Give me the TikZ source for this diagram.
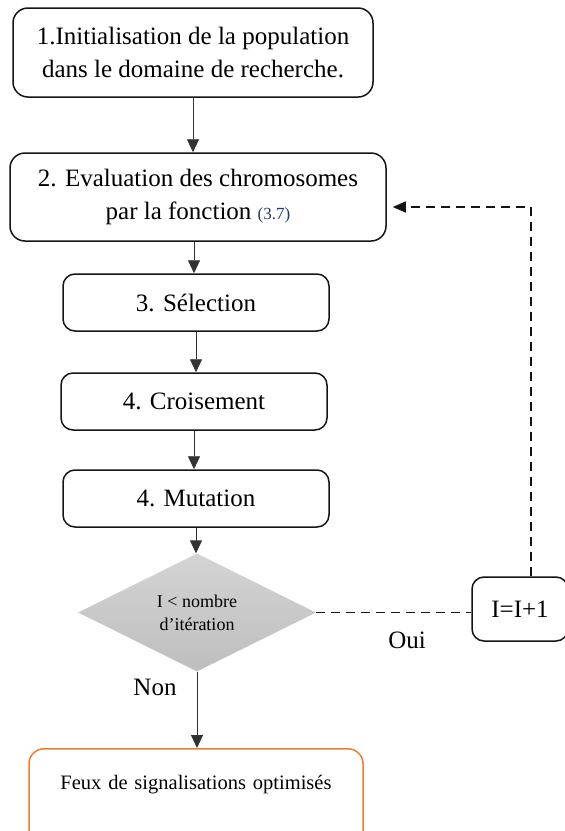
\documentclass[tikz,border=0pt]{standalone}
\usepackage{fontspec}
\setmainfont{Liberation Serif}
\usepackage{xcolor}
\usepackage{tikz}
\usetikzlibrary{shapes.geometric, arrows.meta}
\definecolor{flowblack}{RGB}{20,20,20}
\definecolor{edgegray}{RGB}{50,50,50}
\definecolor{testtop}{RGB}{212,212,212}
\definecolor{testbot}{RGB}{190,190,190}
\definecolor{endorange}{RGB}{237,125,49}
\definecolor{refblue}{RGB}{32,56,110}
\tikzset{
  stepbox/.style={draw=flowblack, line width=1.5pt, rounded corners=12pt, align=center,
    font=\fontsize{25}{33}\selectfont, inner sep=0pt},
  testnode/.style={diamond, aspect=2, top color=testtop, bottom color=testbot,
    minimum width=238pt, minimum height=118pt, inner sep=0pt, align=center,
    font=\fontsize{18}{23}\selectfont},
  endbox/.style={draw=endorange, line width=1.5pt, rounded corners=15pt, align=center,
    font=\fontsize{20.5}{25}\selectfont, inner xsep=0pt, inner ysep=20pt},
  flowedge/.style={draw=edgegray, line width=0.9pt, -{Triangle[length=13pt, width=12pt]}},
  loopedge/.style={draw=flowblack, line width=1.4pt, dash pattern=on 9pt off 6pt},
  flowlabel/.style={font=\fontsize{25}{30}\selectfont}
}

\begin{document}
\begin{tikzpicture}[x=1pt, y=-1pt]
  \clip (0,0) rectangle (565,831);
  % etapes
  \node[stepbox, rounded corners=15pt, minimum width=360pt, minimum height=89pt] (init) at (193,52.5)
    {1.Initialisation de la population\\dans le domaine de recherche.};
  \node[stepbox, rounded corners=15pt, minimum width=376pt, minimum height=88pt] (eval) at (198,197)
    {2. Evaluation des chromosomes\\par la fonction {\color{refblue}\fontsize{17}{17}\selectfont(3.7)}};
  \node[stepbox, minimum width=266pt, minimum height=57pt] (sel) at (196,302.5) {3. Sélection};
  \node[stepbox, minimum width=266pt, minimum height=57pt] (cross) at (194,401.5) {4. Croisement};
  \node[stepbox, minimum width=266pt, minimum height=57pt] (mut) at (196,498.5) {4. Mutation};
  \node[testnode] (test) at (197,612.5) {I < nombre\\d’itération};
  \node[stepbox, minimum width=96pt, minimum height=64pt] (incr) at (520,609) {I=I+1};
  \node[endbox, text width=334pt, text height=21pt, text depth=59pt, anchor=north] (result) at (196,748)
    {Feux de signalisations optimisés};
  \node[flowlabel] (yes) at (407,640) {Oui};
  \node[flowlabel] (no) at (155,687) {Non};
  % fleches
  \draw[flowedge] (init.south) -- (init.south |- eval.north);
  \draw[flowedge] ([xshift=-4pt]eval.south) -- ([xshift=-4pt]eval.south |- sel.north);
  \draw[flowedge] (sel.south) -- (sel.south |- cross.north);
  \draw[flowedge] (cross.south) -- (cross.south |- mut.north);
  \draw[flowedge] (mut.south) -- (mut.south |- test.north);
  \draw[flowedge] (test.south) -- (test.south |- result.north);
  % boucle
  \coordinate (back) at (531,207);
  \draw[loopedge] (test.east) -- (test.east -| incr.west);
  \draw[loopedge, -{Triangle[length=13pt, width=11pt]}, shorten >=6pt]
    (incr.north -| back) -- (back) -- (eval.east |- back);
\end{tikzpicture}
\end{document}
